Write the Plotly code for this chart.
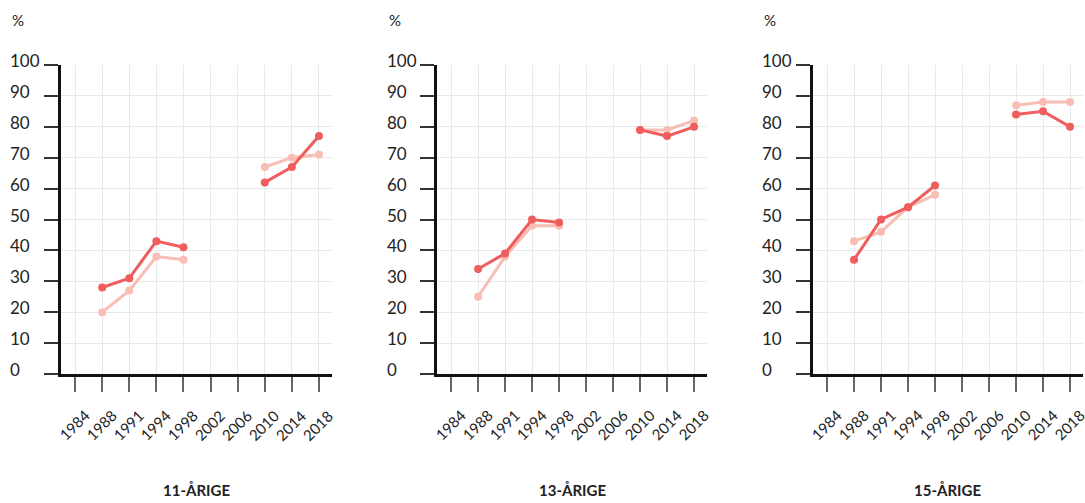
import plotly.graph_objects as go

years = ["1984", "1988", "1991", "1994", "1998", "2002", "2006", "2010", "2014", "2018"]
panel_titles = ["11-ÅRIGE", "13-ÅRIGE", "15-ÅRIGE"]
y_ticks = [0, 10, 20, 30, 40, 50, 60, 70, 80, 90, 100]

# dark series (drawn on top)
dark_11 = [None, 28, 31, 43, 41, None, None, 62, 67, 77]
dark_13 = [None, 34, 39, 50, 49, None, None, 79, 77, 80]
dark_15 = [None, 37, 50, 54, 61, None, None, 84, 85, 80]
# light series
light_11 = [None, 20, 27, 38, 37, None, None, 67, 70, 71]
light_13 = [None, 25, 38, 48, 48, None, None, 79, 79, 82]
light_15 = [None, 43, 46, 54, 58, None, None, 87, 88, 88]

DARK = "#ef5d5d"
LIGHT = "#f9beb3"
FONT = "Lato"
TXT = "#222222"

W, H = 1085, 503
x_domains = [(61, 332), (437, 707), (813, 1083)]
y_dom = [1 - 374 / H, 1 - 65 / H]
ylab_x = [8, 385, 760]
pct_x = [10, 387, 762]

fig = go.Figure()
lights = [light_11, light_13, light_15]
darks = [dark_11, dark_13, dark_15]

annotations = []
for i in range(3):
    sfx = "" if i == 0 else str(i + 1)
    xa, ya = "x" + sfx, "y" + sfx
    fig.add_trace(go.Scatter(x=years, y=lights[i], mode="lines+markers",
                             line=dict(color=LIGHT, width=3), marker=dict(size=8, color=LIGHT),
                             connectgaps=False, showlegend=False, xaxis=xa, yaxis=ya,
                             cliponaxis=False))
    fig.add_trace(go.Scatter(x=years, y=darks[i], mode="lines+markers",
                             line=dict(color=DARK, width=3), marker=dict(size=8, color=DARK),
                             connectgaps=False, showlegend=False, xaxis=xa, yaxis=ya,
                             cliponaxis=False))
    d0, d1 = x_domains[i]
    fig.layout["xaxis" + sfx] = dict(
        domain=[d0 / W, d1 / W], type="category", categoryorder="array", categoryarray=years,
        range=[-0.52, 9.48], showgrid=True, gridcolor="#e9e9e9", gridwidth=1,
        showline=True, linecolor="#111111", linewidth=3, ticks="outside", ticklen=15,
        tickcolor="#666666", tickwidth=1.5, showticklabels=False, anchor=ya, zeroline=False,
        fixedrange=True)
    fig.layout["yaxis" + sfx] = dict(
        domain=y_dom, range=[0, 100], tickvals=y_ticks, showgrid=True, gridcolor="#e9e9e9",
        gridwidth=1, showline=True, linecolor="#111111", linewidth=3, ticks="outside",
        ticklen=14, tickcolor="#333333", tickwidth=1.5, showticklabels=False, anchor=xa,
        zeroline=False, fixedrange=True)
    # y tick labels (left aligned)
    for v in y_ticks:
        annotations.append(dict(text=str(v), xref="paper", yref=ya, x=ylab_x[i] / W, y=v,
                                xanchor="left", yanchor="middle", yshift=4.5, showarrow=False,
                                font=dict(family=FONT, size=17, color=TXT)))
    # x tick labels (rotated), placed at category index on the axis
    for j, yr in enumerate(years):
        annotations.append(dict(text=yr, xref=xa, yref="paper", x=j, y=1 - 425 / H,
                                textangle=-45, xanchor="center", yanchor="middle",
                                showarrow=False, xshift=-1,
                                font=dict(family=FONT, size=15, color=TXT)))
    # % label
    annotations.append(dict(text="%", xref="paper", yref="paper", x=pct_x[i] / W, y=1 - 20 / H,
                            xanchor="left", yanchor="middle", showarrow=False,
                            font=dict(family=FONT, size=15, color=TXT)))
    # panel title
    annotations.append(dict(text="<b>" + panel_titles[i] + "</b>", xref="paper", yref="paper",
                            x=(d0 + d1) / 2 / W, y=1 - 490 / H, xanchor="center",
                            yanchor="middle", showarrow=False,
                            font=dict(family=FONT, size=15, color=TXT)))

fig.update_layout(width=W, height=H, margin=dict(l=0, r=0, t=0, b=0),
                  paper_bgcolor="white", plot_bgcolor="white",
                  font=dict(family=FONT, color=TXT), annotations=annotations)

fig.write_html("out.html", config={"displayModeBar": False},
               post_script="document.body.style.margin='0';document.body.style.overflow='hidden';")
